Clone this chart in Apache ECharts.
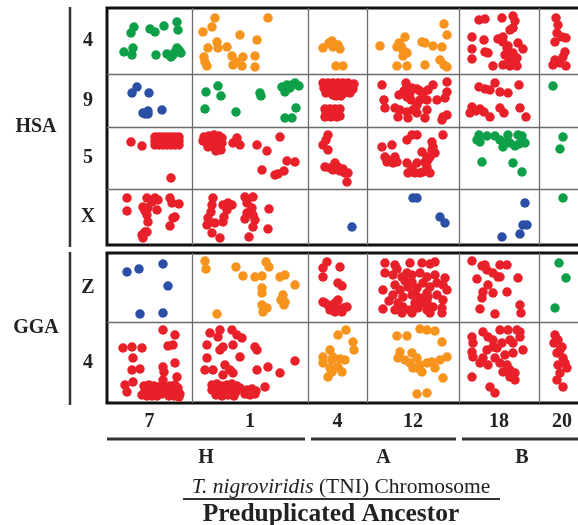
<!DOCTYPE html>
<html><head><meta charset="utf-8">
<script src="https://cdn.jsdelivr.net/npm/echarts@6/dist/echarts.min.js"></script>
<style>html,body{margin:0;padding:0;background:#fff;}#c{width:578px;height:525px;}</style>
</head><body><div id="c"></div>
<script>
// ---- categories ----
const tniChroms = ['7','1','4','12','18','20'];
const tniSizes = [85,116,59,92,80,46];
const ancestors = ['H','A','B'];
const ancestorSpans = [[0,1],[2,3],[4,5]];
const hsaChroms = ['4','9','5','X'];
const hsaSizes = [66,53,62,56];
const ggaChroms = ['Z','4'];
const ggaSizes = [69,81];
const palette = {green:'#0e9f49', orange:'#f7941d', red:'#e8202a', blue:'#2c4fa6'};

// ---- dot data: [position on TNI chromosome, position on HSA/GGA chromosome] ----
const hsa4_tni7 = [[27,19],[24,25],[43,21],[48,24],[57,18],[70,14],[71,22],[17,44],[26,40],[25,47],[49,47],[60,46],[66,47],[70,40],[72,42],[68,44],[64,49],[74,45]];
const hsa4_tni1 = [[23,10],[20,19],[11,24],[76,10],[48,27],[65,32],[25,34],[16,40],[26,40],[35,39],[12,49],[40,48],[51,49],[63,48],[15,58],[41,57],[50,58],[63,59],[44,54],[13,54]];
const hsa4_tni4 = [[15,40],[21,35],[24,33],[30,37],[32,41],[28,58],[35,58],[25,39]];
const hsa4_tni12 = [[13,38],[30,39],[32,35],[38,29],[40,45],[36,42],[55,34],[58,35],[66,38],[75,39],[77,16],[80,27],[30,58],[40,58],[58,57],[73,52],[77,57],[80,59],[36,48],[34,38]];
const hsa4_tni18 = [[20,12],[26,11],[43,10],[54,8],[56,13],[13,29],[25,32],[39,31],[44,29],[51,22],[54,20],[49,38],[59,35],[64,41],[13,41],[26,44],[29,45],[48,40],[54,45],[58,50],[54,55],[50,52],[44,57],[34,58],[13,51],[51,58],[58,58],[44,34],[46,47]];
const hsa4_tni20 = [[17,10],[19,17],[18,25],[23,29],[27,30],[16,34],[26,44],[24,49],[16,52],[21,55],[27,58],[14,57]];
const hsa9_tni7 = [[30,13],[25,19],[42,19],[36,39],[41,37],[41,40],[55,36],[38,40]];
const hsa9_tni1 = [[14,18],[26,12],[29,22],[13,35],[44,38],[68,19],[69,22],[90,13],[95,11],[100,11],[103,9],[93,18],[98,14],[104,34],[93,44],[100,44],[107,12]];
const hsa9_tni4 = [[15,9],[20,9],[25,9],[30,9],[35,9],[40,9],[46,10],[16,14],[22,14],[28,14],[34,14],[40,14],[45,15],[18,19],[24,19],[30,19],[36,19],[42,19],[28,22],[33,22],[25,21],
  [17,35],[22,35],[27,35],[32,35],[18,39],[24,39],[30,39],[17,43],[23,43],[29,43],[32,42]];
const hsa9_tni12 = [[15,11],[39,9],[40,13],[37,17],[32,21],[43,19],[50,15],[53,17],[56,19],[61,16],[66,11],[80,8],[80,18],[78,24],[60,26],[53,26],[44,26],[50,31],[17,26],[18,34],[28,34],[33,36],[40,38],[46,36],[50,39],[60,36],[58,44],[41,44],[31,43],[76,43],[80,41],[75,46],[70,26],[45,14],[40,23]];
const hsa9_tni18 = [[20,13],[31,16],[36,9],[41,18],[49,19],[60,11],[13,33],[21,35],[25,38],[31,43],[41,34],[45,39],[61,34],[67,43],[11,39],[26,15],[17,37]];
const hsa9_tni20 = [[14,12]];
const hsa5_tni7 = [[24,15],[35,19],[64,51],
  [48,10],[52,10],[56,10],[60,10],[64,10],[68,10],[72,10],[48,14],[52,14],[56,14],[60,14],[64,14],[68,14],[72,14],[48,18],[52,18],[56,18],[60,18],[64,18],[68,18],[72,18]];
const hsa5_tni1 = [[12,10],[17,9],[22,8],[27,9],[30,11],[14,15],[20,14],[26,14],[30,16],[16,20],[22,20],[28,20],[24,24],[29,23],[11,14],
  [45,11],[48,18],[41,16],[65,18],[75,24],[88,10],[95,34],[103,35],[70,43],[83,48],[86,47],[92,44]];
const hsa5_tni4 = [[20,8],[15,18],[20,23],[17,40],[22,41],[27,36],[30,40],[32,44],[37,46],[40,46],[39,55],[25,43],[18,13],[35,42]];
const hsa5_tni12 = [[15,20],[25,18],[40,13],[45,8],[50,8],[65,15],[76,8],[18,30],[21,33],[28,30],[26,36],[30,35],[40,36],[41,46],[50,36],[55,25],[60,30],[65,23],[66,20],[68,26],[60,40],[56,45],[63,46],[53,46],[48,46],[45,41],[61,33],[63,30],[58,35],[20,35]];
const hsa5_tni18 = [[20,8],[21,15],[28,9],[36,9],[41,13],[49,8],[59,8],[63,9],[51,16],[56,19],[44,20],[23,35],[54,36],[63,45],[18,13],[46,16],[60,17],[66,16]];
const hsa5_tni20 = [[24,10],[21,22]];
const hsaX_tni7 = [[20,9],[20,22],[40,9],[48,9],[51,11],[36,18],[41,19],[50,21],[40,26],[41,33],[63,9],[65,14],[72,15],[68,28],[66,29],[63,37],[38,43],[35,46],[36,49],[40,43],[45,13],[38,22]];
const hsaX_tni1 = [[21,9],[20,16],[19,23],[16,29],[15,36],[20,44],[28,49],[31,16],[36,14],[40,16],[35,21],[32,28],[31,33],[53,8],[61,8],[55,14],[60,19],[55,24],[61,26],[53,30],[63,31],[61,38],[57,48],[77,20],[76,40],[23,34]];
const hsaX_tni4 = [[44,38]];
const hsaX_tni12 = [[46,9],[50,9],[73,28],[78,34]];
const hsaX_tni18 = [[66,14],[64,36],[68,36],[61,45],[43,48]];
const hsaX_tni20 = [[24,9]];
const ggaZ_tni7 = [[20,19],[32,16],[56,11],[61,33],[33,61],[56,60]];
const ggaZ_tni1 = [[13,8],[14,16],[44,14],[51,23],[63,24],[70,23],[74,9],[77,14],[88,24],[93,22],[103,32],[70,35],[70,40],[91,42],[93,49],[92,52],[70,52],[75,55],[71,59],[25,61],[89,47]];
const ggaZ_tni4 = [[19,9],[15,15],[32,14],[15,24],[30,30],[34,33],[15,49],[20,52],[27,50],[30,47],[39,54],[34,59],[27,59],[24,54],[35,55],[17,50],[22,57],[30,57]];
const ggaZ_tni12 = [[18,10],[28,12],[43,10],[55,10],[63,11],[68,9],[18,20],[26,22],[35,24],[40,20],[45,22],[53,20],[60,24],[68,22],[78,25],[16,37],[28,32],[33,37],[41,34],[50,35],[56,30],[63,34],[76,32],[80,37],[26,42],[36,44],[45,42],[53,45],[61,44],[70,42],[76,47],[16,56],[28,57],[36,54],[43,57],[51,55],[60,57],[66,54],[75,55],[75,60],[31,50],[48,50],[60,49],[45,29],[60,40],[38,28],[30,16],[48,40],[55,50],[22,48],[70,30],[45,60],[35,60],[63,60]];
const ggaZ_tni18 = [[13,8],[23,13],[28,17],[26,12],[41,12],[48,12],[34,20],[39,24],[18,26],[29,32],[24,39],[34,40],[23,45],[48,39],[59,25],[21,56],[36,61],[61,52],[62,60],[41,24]];
const ggaZ_tni20 = [[20,10],[27,25],[16,55]];
const gga4_tni7 = [[56,8],[68,13],[16,26],[25,25],[35,26],[61,24],[66,23],[26,36],[25,48],[33,47],[56,45],[57,50],[68,41],[56,58],[70,55],[18,63],[20,70],[26,60],
  [37,64],[42,63],[47,64],[51,65],[38,69],[43,70],[48,69],[52,70],[40,74],[45,74],[50,74],[35,73],[58,66],[63,64],[68,63],[71,66],[60,70],[65,69],[70,70],[73,72],[62,74],[67,74],[72,75],[55,72]];
const gga4_tni1 = [[15,23],[18,11],[28,8],[26,15],[40,8],[45,13],[50,16],[41,23],[28,28],[31,25],[63,25],[65,28],[48,35],[15,36],[13,48],[21,48],[33,43],[38,48],[31,53],[41,51],[65,48],[76,45],[88,51],[103,39],[73,65],
  [20,63],[25,62],[30,64],[35,63],[40,62],[45,64],[20,68],[26,69],[32,68],[38,69],[44,70],[24,73],[30,74],[36,73],[42,74],[55,68],[60,67],[64,69],[53,72],[58,73],[63,72],[48,66]];
const gga4_tni4 = [[30,13],[38,8],[45,20],[46,28],[22,28],[15,35],[24,38],[32,37],[37,38],[15,41],[22,46],[30,45],[20,55],[24,50],[34,50],[25,35]];
const gga4_tni12 = [[30,14],[40,14],[53,7],[60,8],[68,9],[75,20],[33,30],[31,36],[38,38],[45,31],[50,36],[53,43],[50,46],[60,41],[65,40],[73,38],[80,35],[68,46],[76,56],[55,50],[46,46],[50,72],[60,71],[43,41]];
const gga4_tni18 = [[13,15],[14,21],[13,30],[14,35],[13,55],[31,65],[36,71],[24,10],[29,15],[34,18],[41,8],[49,8],[58,8],[61,15],[51,18],[43,21],[38,26],[28,28],[24,36],[21,41],[29,43],[36,36],[46,33],[54,31],[64,28],[41,41],[48,43],[51,48],[56,51],[56,58],[51,55],[44,50],[34,25],[54,21],[61,10]];
const gga4_tni20 = [[16,13],[19,18],[23,25],[18,31],[24,36],[28,46],[19,43],[21,51],[18,58],[24,65],[15,21],[21,28],[26,41]];

// cell table: [block, row chromosome, TNI chromosome, colour, data]
const cells = [
  ['HSA','4','7','green',hsa4_tni7],['HSA','4','1','orange',hsa4_tni1],['HSA','4','4','orange',hsa4_tni4],
  ['HSA','4','12','orange',hsa4_tni12],['HSA','4','18','red',hsa4_tni18],['HSA','4','20','red',hsa4_tni20],
  ['HSA','9','7','blue',hsa9_tni7],['HSA','9','1','green',hsa9_tni1],['HSA','9','4','red',hsa9_tni4],
  ['HSA','9','12','red',hsa9_tni12],['HSA','9','18','red',hsa9_tni18],['HSA','9','20','green',hsa9_tni20],
  ['HSA','5','7','red',hsa5_tni7],['HSA','5','1','red',hsa5_tni1],['HSA','5','4','red',hsa5_tni4],
  ['HSA','5','12','red',hsa5_tni12],['HSA','5','18','green',hsa5_tni18],['HSA','5','20','green',hsa5_tni20],
  ['HSA','X','7','red',hsaX_tni7],['HSA','X','1','red',hsaX_tni1],['HSA','X','4','blue',hsaX_tni4],
  ['HSA','X','12','blue',hsaX_tni12],['HSA','X','18','blue',hsaX_tni18],['HSA','X','20','green',hsaX_tni20],
  ['GGA','Z','7','blue',ggaZ_tni7],['GGA','Z','1','orange',ggaZ_tni1],['GGA','Z','4','red',ggaZ_tni4],
  ['GGA','Z','12','red',ggaZ_tni12],['GGA','Z','18','red',ggaZ_tni18],['GGA','Z','20','green',ggaZ_tni20],
  ['GGA','4','7','red',gga4_tni7],['GGA','4','1','red',gga4_tni1],['GGA','4','4','orange',gga4_tni4],
  ['GGA','4','12','orange',gga4_tni12],['GGA','4','18','red',gga4_tni18],['GGA','4','20','red',gga4_tni20]
];

// ---- build ----
const cum = a => a.reduce((r,v,i)=>{r.push(r[i]+v);return r;},[0]);
const xStart = cum(tniSizes), xTotal = xStart[xStart.length-1];
const blocks = {
  HSA: {grid:0, names:hsaChroms, start:cum(hsaSizes)},
  GGA: {grid:1, names:ggaChroms, start:cum(ggaSizes)}
};
const serif = '"Liberation Serif", "Times New Roman", serif';
const chart = echarts.init(document.getElementById('c'), null, {renderer:'canvas'});

const grids = [
  {left:107, top:8, width:xTotal, height:blocks.HSA.start[hsaSizes.length]},
  {left:107, top:253, width:xTotal, height:blocks.GGA.start[ggaSizes.length]}
].map(g => Object.assign(g, {show:true, borderColor:'#111', borderWidth:3, backgroundColor:'#fff',
  containLabel:false, outerBoundsMode:'none'}));

const xAxes = [0,1].map(i => ({gridIndex:i, type:'value', min:0, max:xTotal, show:false}));
const yAxes = ['HSA','GGA'].map((b,i) => ({gridIndex:i, type:'value', min:0,
  max:blocks[b].start[blocks[b].start.length-1], inverse:true, show:false}));

const series = [];
['HSA','GGA'].forEach((b,i) => {
  const st = blocks[b].start;
  const lines = xStart.slice(1,-1).map(v => ({xAxis:v}))
    .concat(st.slice(1,-1).map(v => ({yAxis:v})));
  series.push({type:'scatter', xAxisIndex:i, yAxisIndex:i, data:[], silent:true,
    markLine:{silent:true, symbol:['none','none'], label:{show:false},
      lineStyle:{color:'#6b6b6b', width:1.3, type:'solid'}, data:lines}});
});
cells.forEach(([b,row,col,color,data]) => {
  const blk = blocks[b];
  const ri = blk.names.indexOf(row), ci = tniChroms.indexOf(col);
  series.push({type:'scatter', xAxisIndex:blk.grid, yAxisIndex:blk.grid, symbolSize:9.5,
    itemStyle:{color:palette[color], opacity:1}, z:3,
    data:data.map(([x,y]) => [xStart[ci]+x, blk.start[ri]+y])});
});

chart.setOption({animation:false, grid:grids, xAxis:xAxes, yAxis:yAxes, series});

// ---- labels (real text positioned via the axes) ----
const P = (g,x,y) => chart.convertToPixel({gridIndex:g}, [x,y]);
const g = [];
const txt = (text, x, y, size, extra) => g.push({type:'text', silent:true, style:Object.assign({
  text, x, y, fill:'#222', font:'bold '+size+'px '+serif, align:'center', verticalAlign:'middle'}, extra||{})});
const line = (x1,y1,x2,y2,w) => g.push({type:'line', silent:true, shape:{x1,y1,x2,y2}, style:{stroke:'#333', lineWidth:w}});

['HSA','GGA'].forEach(b => {
  const blk = blocks[b], gi = blk.grid, st = blk.start;
  const left = P(gi,0,0)[0];
  const top = P(gi,0,0)[1], bot = P(gi,0,st[st.length-1])[1];
  blk.names.forEach((n,i) => txt(n, left-19, P(gi,0,(st[i]+st[i+1])/2)[1], 20));
  line(left-37, top-1, left-37, bot+2, 2.5);
  txt(b, left-71, (top+bot)/2, 20);
});
const bottom = P(1,0,blocks.GGA.start[ggaSizes.length])[1];
tniChroms.forEach((n,i) => txt(n, P(1,(xStart[i]+xStart[i+1])/2,0)[0], bottom+19, 20));
ancestors.forEach((a,i) => {
  const [s,e] = ancestorSpans[i];
  const x1 = P(1,xStart[s],0)[0] + (s===0?0:3), x2 = P(1,xStart[e+1],0)[0] - 3;
  line(x1, bottom+36, x2, bottom+36, 3);
  txt(a, (x1+x2)/2, bottom+55, 20);
});
g.push({type:'text', silent:true, style:{text:'{i|T. nigroviridis} (TNI) Chromosome', x:341, y:bottom+84,
  align:'center', verticalAlign:'middle', fill:'#222', font:'21.5px '+serif,
  rich:{i:{fontStyle:'italic', fontFamily:serif, fontSize:21.5, fill:'#222'}}}});
line(183, bottom+96, 500, bottom+96, 2);
txt('Preduplicated Ancestor', 331, bottom+111, 25.5);
chart.setOption({graphic:g});
</script></body></html>
